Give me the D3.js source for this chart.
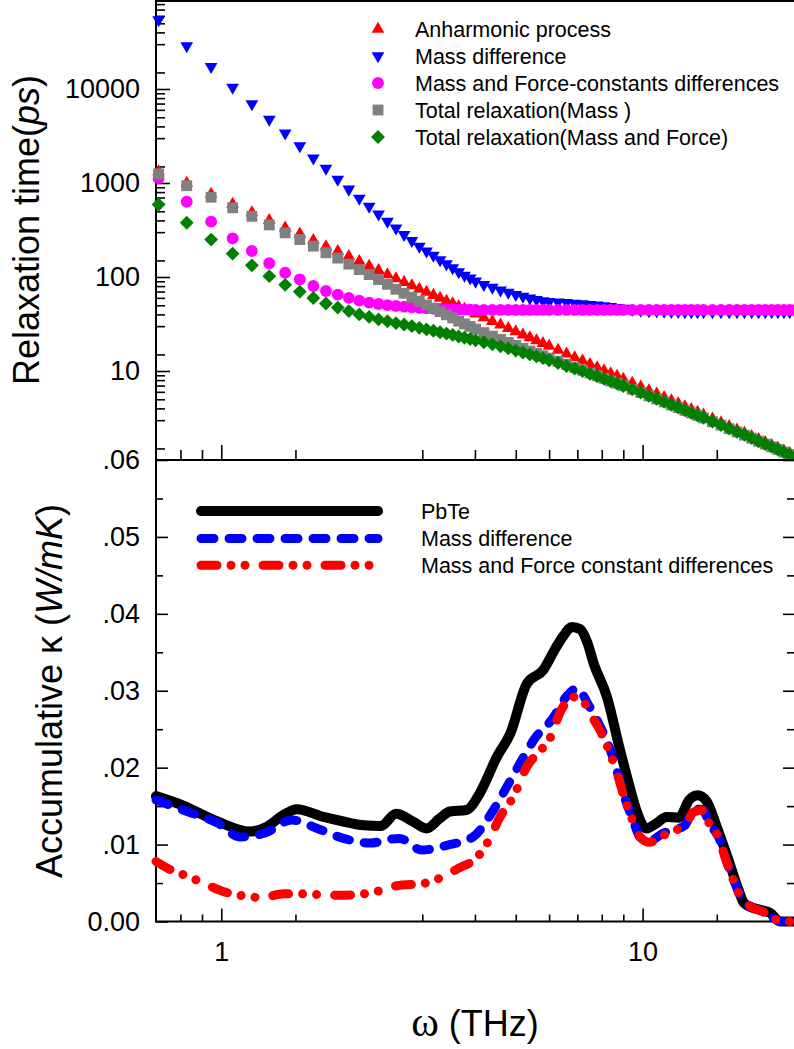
<!DOCTYPE html>
<html>
<head>
<meta charset="utf-8">
<script src="https://cdn.jsdelivr.net/npm/d3@7"></script>
<style>
  body { margin: 0; background: #fff; }
  svg { display: block; font-family: "Liberation Sans", Arial, sans-serif; }
</style>
</head>
<body>
<svg id="chart" width="794" height="1049"></svg>
<script>
// ---------- top panel: relaxation time (ps) vs omega (THz)
let omega = [0.71, 0.828, 0.946, 1.064, 1.182, 1.30, 1.418, 1.536, 1.654, 1.772, 1.89, 2.008, 2.126, 2.244, 2.362, 2.48, 2.598,
    2.716, 2.834, 2.952, 3.07, 3.188, 3.306, 3.424, 3.542, 3.66, 3.778, 3.896, 4.014,
    4.2, 4.4, 4.6, 4.8, 5.0, 5.2, 5.4, 5.6, 5.8, 6.0,
    6.3, 6.6, 6.9, 7.2, 7.5, 7.8, 8.1, 8.4, 8.7, 9.0,
    9.45, 9.9, 10.35, 10.8, 11.25, 11.7, 12.15, 12.6, 13.05, 13.5, 13.95,
    14.65, 15.35, 16.05, 16.75, 17.45, 18.15, 18.85, 19.55, 20.25, 20.95, 21.65, 22.35, 23.05]

let tauAnharmonic = [1319, 1000, 760, 595, 485, 400, 333, 287, 245, 211, 188, 166, 147, 131, 118, 106, 96,
    88, 81, 74.5, 69, 64, 59.5, 55.5, 52, 48.5, 45.5, 43, 40.5,
    37, 33.8, 31, 28.5, 26.3, 24.3, 22.6, 21.1, 19.7, 18.4,
    16.7, 15.2, 13.9, 12.8, 11.8, 10.9, 10.1, 9.4, 8.8, 8.2,
    7.45, 6.8, 6.2, 5.7, 5.25, 4.85, 4.5, 4.18, 3.9, 3.65, 3.42,
    3.1, 2.83, 2.58, 2.37, 2.19, 2.02, 1.87, 1.74, 1.62, 1.51, 1.41, 1.33, 1.25]

let tauMass = [54200, 28650, 17260, 10420, 6920, 4760, 3380, 2476, 1832, 1433, 1094, 857, 687, 565, 465, 390, 330,
    282, 244, 212, 188, 170, 152, 138, 125, 113, 104, 97, 90,
    83, 77.5, 72.5, 68.5, 65, 62, 59.5, 57.3, 55.5, 54.8,
    54, 53.2, 52.4, 51.6, 50.8, 50, 49.2, 48.3, 47.3, 46.3,
    45.0, 44.2, 43.6, 43.2, 43.0, 42.8, 42.7, 42.6, 42.6, 42.6, 42.6,
    42.6, 42.6, 42.6, 42.6, 42.6, 42.6, 42.6, 42.6, 42.6, 42.6, 42.6, 42.6, 42.6]

let tauMassForce = [1122, 632, 388, 258, 189, 140, 111, 94.5, 80.2, 71, 65, 60, 56, 53.3, 51.6, 50.3, 49.2,
    48.3, 47.6, 47.0, 46.4, 46.0, 45.7, 45.4, 45.2, 45.0, 44.9, 44.8, 44.7,
    44.6, 44.6, 44.6, 44.6, 44.6, 44.6, 44.6, 44.6, 44.6, 44.6,
    44.6, 44.6, 44.6, 44.6, 44.6, 44.6, 44.6, 44.6, 44.6, 44.6,
    44.6, 44.6, 44.6, 44.6, 44.6, 44.6, 44.6, 44.6, 44.6, 44.6, 44.6,
    44.6, 44.6, 44.6, 44.6, 44.6, 44.6, 44.6, 44.6, 44.6, 44.6, 44.6, 44.6, 44.6]

let tauTotalMass = [1250, 935, 705, 545, 442, 358, 295, 250, 213, 181, 159, 137, 120, 106, 94, 83.5, 74,
    67.1, 60.8, 55.1, 50.5, 46.5, 42.8, 39.6, 36.7, 33.9, 31.7, 29.8, 27.9,
    25.6, 23.5, 21.7, 20.1, 18.7, 17.4, 16.3, 15.4, 14.5, 13.7,
    12.7, 11.75, 10.9, 10.2, 9.52, 8.91, 8.34, 7.84, 7.40, 6.96,
    6.40, 5.90, 5.44, 5.04, 4.69, 4.36, 4.08, 3.81, 3.58, 3.37, 3.17,
    2.89, 2.66, 2.43, 2.25, 2.08, 1.93, 1.79, 1.67, 1.56, 1.46, 1.37, 1.29, 1.21]

let tauTotalMassForce = [590, 378, 250, 177, 133, 102, 82.5, 69.8, 59.8, 52.3, 47.3, 43.4, 40, 37.6, 35.4, 33.8, 32.3,
    31.2, 30.0, 28.8, 27.7, 26.8, 25.8, 25.0, 24.2, 23.3, 22.6, 21.9, 21.2,
    20.2, 19.2, 18.3, 17.4, 16.5, 15.7, 15.0, 14.3, 13.7, 13.0,
    12.15, 11.3, 10.6, 9.95, 9.33, 8.76, 8.24, 7.76, 7.35, 6.93,
    6.38, 5.90, 5.44, 5.05, 4.70, 4.37, 4.09, 3.82, 3.59, 3.37, 3.18,
    2.90, 2.66, 2.44, 2.25, 2.09, 1.93, 1.79, 1.67, 1.56, 1.46, 1.37, 1.29, 1.21]

let topLabels = ["Anharmonic process", "Mass difference", "Mass and Force-constants differences",
    "Total relaxation(Mass )", "Total relaxation(Mass and Force)"]
let topYTicks = [10, 100, 1000, 10000]

// ---------- bottom panel: accumulative kappa (W/mK) vs omega (THz)
let pbteW = [0.70, 0.81, 0.98, 1.17, 1.28, 1.40, 1.51, 1.75, 1.95, 2.18, 2.39, 2.60, 2.85, 3.07, 3.30, 3.49, 3.82,
    4.11, 4.51, 4.85, 5.31, 5.81, 6.18, 6.50, 6.80, 7.11, 7.40, 7.66, 8.23, 8.82, 9.32, 9.66, 10.2, 10.8,
    11.4, 12.2, 12.9, 13.5, 14.2, 15.0, 15.9, 16.8, 17.4, 18.2, 19.1, 20.1, 21.2, 22.9]
let pbteK = [0.0163, 0.0151, 0.0130, 0.0117, 0.0123, 0.0138, 0.0146, 0.0136, 0.0130, 0.0125, 0.0124, 0.0140, 0.0130, 0.0121, 0.0134, 0.0143, 0.0145,
    0.0167, 0.0214, 0.0244, 0.0309, 0.0327, 0.0353, 0.0372, 0.0383, 0.0380, 0.0362, 0.0335, 0.0292, 0.0225, 0.0175, 0.0145, 0.0121, 0.0128,
    0.0136, 0.0135, 0.0158, 0.0164, 0.0156, 0.0123, 0.0084, 0.0045, 0.0024, 0.0018, 0.0015, 0.0011, 0.0000, 0.0000]

let massW = [0.70, 0.83, 0.98, 1.11, 1.27, 1.47, 1.69, 1.95, 2.26, 2.52, 2.65, 2.99, 3.43, 3.96, 4.38, 4.76, 5.12,
    5.55, 6.12, 6.63, 6.98, 7.45, 7.94, 8.38, 8.82, 9.06, 9.49, 9.85, 10.4, 11.2, 12.0, 12.6, 13.2,
    13.8, 14.5, 15.2, 15.7, 16.5, 17.1, 18.1, 19.4, 20.2, 21.4, 22.9]
let massK = [0.0158, 0.0143, 0.0128, 0.0110, 0.0115, 0.0132, 0.0121, 0.0108, 0.0102, 0.0107, 0.0108, 0.0093, 0.0099, 0.0110, 0.0141, 0.0175, 0.0206,
    0.0238, 0.0264, 0.0294, 0.0303, 0.0281, 0.0253, 0.0223, 0.0184, 0.0162, 0.0132, 0.0110, 0.0105, 0.0115, 0.0120, 0.0125, 0.0145,
    0.0146, 0.0125, 0.0108, 0.0084, 0.0052, 0.0032, 0.0019, 0.0013, 0.0006, 0.0000, 0.0000]

let mfW = [0.70, 0.76, 0.83, 0.89, 1.01, 1.14, 1.24, 1.41, 1.57, 1.70, 1.92, 2.18, 2.34, 2.52, 2.65, 2.99, 3.22,
    3.65, 4.07, 4.30, 4.59, 4.93, 5.31, 5.61, 6.00, 6.41, 6.86, 7.23, 7.59, 8.00, 8.38, 8.75, 9.06,
    9.49, 9.85, 10.4, 11.2, 12.0, 12.6, 13.2, 13.8, 14.5, 15.2, 15.7, 16.5, 17.1, 18.1, 19.4, 20.2, 21.4, 22.9]
let mfK = [0.0078, 0.0067, 0.0059, 0.0052, 0.0039, 0.0033, 0.0031, 0.0036, 0.0036, 0.0035, 0.0034, 0.0036, 0.0039, 0.0045, 0.0047, 0.0049, 0.0054,
    0.0069, 0.0085, 0.0104, 0.0136, 0.0162, 0.0201, 0.0218, 0.0236, 0.0275, 0.0292, 0.0286, 0.0266, 0.0244, 0.0218, 0.0188, 0.0160,
    0.0130, 0.0110, 0.0103, 0.0112, 0.0119, 0.0124, 0.0142, 0.0145, 0.0124, 0.0107, 0.0083, 0.0051, 0.0031, 0.0019, 0.0012, 0.0006, 0.0000, 0.0000]

let bottomLabels = ["PbTe", "Mass difference", "Mass and Force constant differences"]
let bottomYTicks = [0, 0.01, 0.02, 0.03, 0.04, 0.05, 0.06]
let xTicks = [1, 10]

// ---------- layout
let plotLeft = 156, plotRight = 795, plotTop = 0, plotMid = 460, plotBottom = 921.5

let svg = d3.select("#chart")

let x = d3.scaleLog().domain([0.7, 23]).range([plotLeft, plotRight])
let yTop = d3.scaleLog().domain([1.13, 88460]).range([plotMid, plotTop])
let yBot = d3.scaleLinear().domain([0, 0.06]).range([plotBottom, plotMid])

// minor tick positions (origin-style: 1.5, 3..9 per decade)
let mult = [1.5, 3, 4, 5, 6, 7, 8, 9]
let xMinor = [0.8, 0.9].concat(mult).concat([15])
let topMinor = []
;[1, 10, 100, 1000, 10000].forEach(dec => mult.forEach(m => {
    let v = m * dec
    if (v > 1.13 && v < 88460) topMinor.push(v)
}))
let botMinor = [0.005, 0.015, 0.025, 0.035, 0.045, 0.055]

function styleAxis(g) {
    g.select(".domain").remove()
    g.selectAll(".tick line").attr("stroke", "#000").attr("stroke-width", 1.6)
    g.selectAll("text").attr("fill", "#000").attr("font-size", 27)
        .attr("font-family", "'Liberation Sans', Arial, sans-serif")
}

// top panel axes
svg.append("g").attr("transform", `translate(${plotLeft},0)`)
    .call(d3.axisLeft(yTop).tickValues(topYTicks).tickFormat(d3.format("d")).tickSize(-14).tickPadding(16))
    .call(styleAxis)
svg.append("g").attr("transform", `translate(${plotLeft},0)`)
    .call(d3.axisLeft(yTop).tickValues(topMinor).tickFormat("").tickSize(-9))
    .call(styleAxis)
svg.append("g").attr("transform", `translate(0,${plotMid})`)
    .call(d3.axisBottom(x).tickValues(xTicks).tickFormat("").tickSize(-15))
    .call(styleAxis)
svg.append("g").attr("transform", `translate(0,${plotMid})`)
    .call(d3.axisBottom(x).tickValues(xMinor).tickFormat("").tickSize(-10))
    .call(styleAxis)

// bottom panel axes
let fmtK = d => d === 0 ? "0.00" : d3.format(".2f")(d).replace(/^0/, "")
svg.append("g").attr("transform", `translate(${plotLeft},0)`)
    .call(d3.axisLeft(yBot).tickValues(bottomYTicks).tickFormat(fmtK).tickSize(-12).tickPadding(16))
    .call(styleAxis)
svg.append("g").attr("transform", `translate(${plotLeft},0)`)
    .call(d3.axisLeft(yBot).tickValues(botMinor).tickFormat("").tickSize(-7))
    .call(styleAxis)
svg.append("g").attr("transform", `translate(${plotRight},0)`)
    .call(d3.axisRight(yBot).tickValues(bottomYTicks).tickFormat("").tickSize(-12))
    .call(styleAxis)
svg.append("g").attr("transform", `translate(${plotRight},0)`)
    .call(d3.axisRight(yBot).tickValues(botMinor).tickFormat("").tickSize(-8))
    .call(styleAxis)
svg.append("g").attr("transform", `translate(0,${plotBottom})`)
    .call(d3.axisBottom(x).tickValues(xTicks).tickFormat(d3.format("d")).tickSize(-13).tickPadding(20.5))
    .call(styleAxis)
svg.append("g").attr("transform", `translate(0,${plotBottom})`)
    .call(d3.axisBottom(x).tickValues(xMinor).tickFormat("").tickSize(-7))
    .call(styleAxis)

// frame lines
let frame = svg.append("g").attr("stroke", "#000").attr("stroke-width", 2)
frame.append("line").attr("x1", plotLeft).attr("x2", plotLeft).attr("y1", plotTop).attr("y2", plotBottom)
frame.append("line").attr("x1", plotLeft).attr("x2", plotRight).attr("y1", plotTop + 1).attr("y2", plotTop + 1)
frame.append("line").attr("x1", plotLeft).attr("x2", plotRight).attr("y1", plotMid).attr("y2", plotMid)
frame.append("line").attr("x1", plotLeft - 1).attr("x2", plotRight).attr("y1", plotBottom).attr("y2", plotBottom)

// ---------- top panel markers
svg.append("clipPath").attr("id", "clipTop")
    .append("rect").attr("x", 140).attr("y", 0).attr("width", 660).attr("height", plotMid - 1)

let topSeries = [
    { name: topLabels[0], values: tauAnharmonic, color: "#ff0000", symbol: d3.symbol(d3.symbolTriangle, 70), rot: 0 },
    { name: topLabels[1], values: tauMass, color: "#0000ff", symbol: d3.symbol(d3.symbolTriangle, 70), rot: 180 },
    { name: topLabels[2], values: tauMassForce, color: "#ff00ff", symbol: d3.symbol(d3.symbolCircle, 110), rot: 0 },
    { name: topLabels[3], values: tauTotalMass, color: "#808080", symbol: d3.symbol(d3.symbolSquare, 118), rot: 0 },
    { name: topLabels[4], values: tauTotalMassForce, color: "#008000", symbol: d3.symbol(d3.symbolSquare, 96), rot: 45 }
]

let marks = svg.append("g").attr("clip-path", "url(#clipTop)")
topSeries.forEach(s => {
    marks.append("g").selectAll("path")
        .data(s.values.map((v, i) => [omega[i], v]))
        .enter()
        .append("path")
        .attr("d", s.symbol())
        .attr("fill", s.color)
        .attr("transform", d => `translate(${x(d[0])},${yTop(d[1])}) rotate(${s.rot})`)
})

// top legend
let legTop = svg.append("g")
topSeries.forEach((s, i) => {
    let yy = 29 + i * 27
    legTop.append("path").attr("d", s.symbol()).attr("fill", s.color)
        .attr("transform", `translate(378,${yy}) rotate(${s.rot})`)
    legTop.append("text").attr("x", 415).attr("y", yy).attr("dy", "0.35em")
        .attr("font-size", 21.5).text(s.name)
})

// ---------- bottom panel lines
let line = d3.line()
    .x(d => x(d[0]))
    .y(d => yBot(d[1]))
    .curve(d3.curveMonotoneX)

let bottomSeries = [
    { name: bottomLabels[0], w: pbteW, k: pbteK, color: "#000", width: 10, dash: null },
    { name: bottomLabels[1], w: massW, k: massK, color: "#0000ff", width: 9, dash: "13,15" },
    { name: bottomLabels[2], w: mfW, k: mfK, color: "#ff0000", width: 9, dash: "16,14,0.01,14,0.01,18" }
]

bottomSeries.forEach(s => {
    svg.append("path")
        .datum(s.w.map((w, i) => [w, s.k[i]]))
        .attr("d", line)
        .attr("fill", "none")
        .attr("stroke", s.color)
        .attr("stroke-width", s.width)
        .attr("stroke-linecap", "round")
        .attr("stroke-linejoin", "round")
        .attr("stroke-dasharray", s.dash)
})

// bottom legend
let legBot = svg.append("g")
let legY = [511, 538.5, 565.3]
bottomSeries.forEach((s, i) => {
    legBot.append("line")
        .attr("x1", 201).attr("x2", 378).attr("y1", legY[i]).attr("y2", legY[i])
        .attr("stroke", s.color)
        .attr("stroke-width", s.width)
        .attr("stroke-linecap", "round")
        .attr("stroke-dasharray", s.dash)
    legBot.append("text").attr("x", 421).attr("y", legY[i]).attr("dy", "0.35em")
        .attr("font-size", 21.5).text(s.name)
})

// ---------- axis titles
let t1 = svg.append("text")
    .attr("transform", "translate(39,230) rotate(-90)")
    .attr("text-anchor", "middle")
    .attr("font-size", 36)
t1.append("tspan").text("Relaxation time(")
t1.append("tspan").attr("font-style", "italic").text("ps")
t1.append("tspan").text(")")

let t2 = svg.append("text")
    .attr("transform", "translate(62,691) rotate(-90)")
    .attr("text-anchor", "middle")
    .attr("font-size", 36)
t2.append("tspan").text("Accumulative κ (")
t2.append("tspan").attr("font-style", "italic").text("W/mK")
t2.append("tspan").text(")")

let t3 = svg.append("text")
    .attr("x", 475).attr("y", 1036)
    .attr("text-anchor", "middle")
    .attr("font-size", 36)
t3.append("tspan").attr("font-family", "'Liberation Serif', 'Times New Roman', serif").attr("font-size", 42).text("ω")
t3.append("tspan").text(" (THz)")
</script>
</body>
</html>
